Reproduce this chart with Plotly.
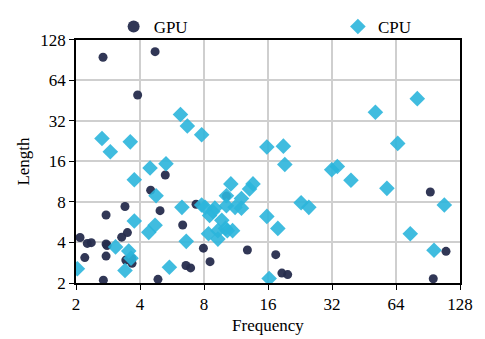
import plotly.graph_objects as go
import math

gpu_freq = [2.68, 4.71, 3.9, 5.26, 4.49, 3.4, 4.97, 2.77, 7.34, 6.35, 3.49, 3.28, 2.09, 2.26, 2.36,
            2.77, 2.8, 7.95, 2.2, 2.77, 3.43, 3.67, 3.66, 6.58, 6.92, 2.69, 4.86, 8.54, 12.8, 17.4,
            18.6, 19.8, 10.2, 92.8, 110, 95.8]
gpu_len = [95.3, 104.8, 49.9, 12.7, 9.8, 7.4, 6.9, 6.4, 7.7, 5.4, 4.74, 4.38, 4.36, 3.94, 3.99,
           3.9, 3.8, 3.63, 3.09, 3.17, 2.96, 2.8, 3.04, 2.7, 2.59, 2.1, 2.13, 2.88, 3.52, 3.25,
           2.37, 2.31, 8.85, 9.5, 3.44, 2.15]

cpu_freq = [6.2, 6.68, 7.8, 2.65, 2.9, 3.6, 4.46, 5.3, 15.8, 18.9, 19.2, 31.9, 33.9, 51.2, 80.6,
            65.2, 39.3, 58, 108, 74.7, 96.6, 10.7, 13.1, 13.6, 10.2, 12.0, 10.2, 11.2, 12.0, 9.0,
            8.8, 8.5, 7.8, 8.1, 9.7, 8.4, 9.3, 9.3, 10.1, 10.3, 10.9, 15.8, 17.8, 16.2, 22.9, 24.9,
            3.76, 4.76, 6.3, 3.76, 4.71, 4.4, 6.6, 3.07, 3.54, 3.63, 3.4, 2.03, 5.5]
cpu_len = [35.8, 29.4, 25.3, 23.7, 18.9, 22.4, 14.3, 15.4, 20.5, 20.8, 15.2, 13.9, 14.7, 37.2, 46.9,
           21.8, 11.6, 10.1, 7.6, 4.64, 3.5, 10.9, 10.0, 10.9, 8.9, 8.5, 7.5, 7.3, 7.2, 7.2,
           6.8, 6.35, 7.6, 7.3, 5.85, 4.64, 4.9, 4.24, 5.09, 4.9, 4.9, 6.25, 5.09, 2.16, 7.9, 7.3,
           11.7, 8.9, 7.3, 5.78, 5.38, 4.76, 4.08, 3.71, 3.46, 3.06, 2.48, 2.55, 2.62]

tick_vals = [2, 4, 8, 16, 32, 64, 128]
tick_text = [str(v) for v in tick_vals]

fig = go.Figure()
fig.add_trace(go.Scatter(x=gpu_freq, y=gpu_len, mode="markers", name="GPU", legend="legend",
                         marker=dict(symbol="circle", size=9, color="#262c4d", opacity=0.95,
                                     line=dict(width=0))))
fig.add_trace(go.Scatter(x=cpu_freq, y=cpu_len, mode="markers", name="CPU", legend="legend2",
                         marker=dict(symbol="diamond", size=12, color="#2bb5dc", opacity=0.9,
                                     line=dict(width=0))))

font = dict(family="Liberation Serif, Times New Roman, serif", size=17, color="#000000")
axis_common = dict(type="log", tickvals=tick_vals, ticktext=tick_text,
                   range=[math.log10(2), math.log10(128)],
                   showgrid=True, gridcolor="#cfcfcf", gridwidth=1.5,
                   showline=True, linecolor="#000000", linewidth=1.5, mirror=True,
                   ticks="outside", ticklen=5, tickcolor="#000000", zeroline=False,
                   tickfont=font)
fig.update_xaxes(title=dict(text="Frequency", font=font, standoff=6), **axis_common)
fig.update_yaxes(title=dict(text="Length", font=font, standoff=6),
                 domain=[0, (283 - 32) / 283], **axis_common)

leg_common = dict(orientation="h", yanchor="top", y=1.0, xanchor="left",
                  font=font, bgcolor="rgba(0,0,0,0)", itemsizing="constant",
                  borderwidth=0)
fig.update_layout(
    width=485, height=339,
    margin=dict(l=76, r=25, t=0, b=56),
    paper_bgcolor="white", plot_bgcolor="white",
    font=font,
    showlegend=True,
    legend=dict(x=0.098, **leg_common),
    legend2=dict(x=0.682, **leg_common),
)

fig.write_html("out.html", config={"displayModeBar": False},
               post_script="document.body.style.margin='0';document.body.style.overflow='hidden';")
